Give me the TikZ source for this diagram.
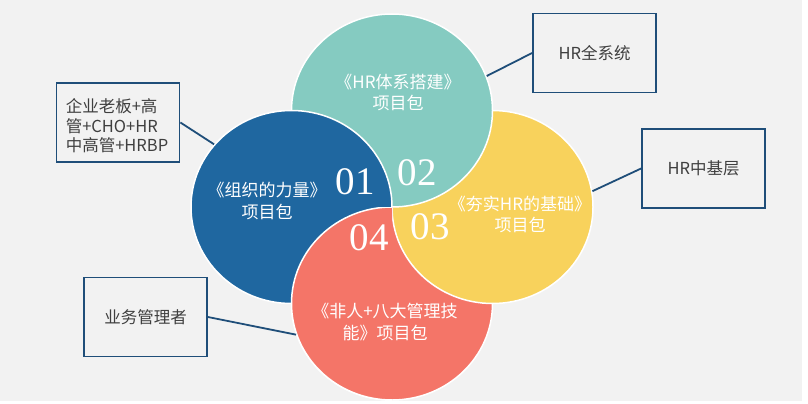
\documentclass[tikz,border=0pt]{standalone}
\usepackage{fontspec}
\newfontfamily\cjk{Noto Sans CJK SC}
\newfontfamily\numfont{Liberation Serif}
\usetikzlibrary{shapes.geometric}
\definecolor{bg}{HTML}{F2F2F2}
\definecolor{lineblue}{HTML}{1F4E79}
\definecolor{txtgray}{HTML}{3F3F3F}
\definecolor{cteal}{HTML}{85CBC1}
\definecolor{cblue}{HTML}{1F67A0}
\definecolor{cyellow}{HTML}{F8D25C}
\definecolor{cred}{HTML}{F47568}
\begin{document}
\begin{tikzpicture}[x=1pt,y=-1pt,
  petal/.style={ellipse, minimum width=201pt, minimum height=193pt, inner sep=0pt, draw=white, line width=1.5pt},
  box/.style={draw=lineblue, line width=1.8pt, fill=bg, minimum width=123pt, minimum height=79pt, inner sep=0pt, text=txtgray, font=\cjk\fontsize{16.5}{19.5}\selectfont},
  link/.style={draw=lineblue, line width=1.8pt},
  ptext/.style={text=white, font=\cjk\fontsize{17}{21.5}\selectfont, align=center, inner sep=0pt},
  num/.style={text=white, font=\numfont\fontsize{39}{39}\selectfont, inner sep=0pt}]
\useasboundingbox (0,0) rectangle (808,404);
\fill[white] (0,0) rectangle (808,404);
\fill[bg] (0,0) rectangle (802,401);

% petals (cyclic overlap)
\node[petal, fill=cred] (red) at (392,303.5) {};
\node[petal, fill=cyellow] (yellow) at (492.5,207) {};
\node[petal, fill=cteal] (teal) at (392,110.5) {};
\node[petal, fill=cblue] (blue) at (291.5,207) {};
\begin{scope}
  \clip (180,207) rectangle (392,404);
  \filldraw[fill=cred, draw=white, line width=1.5pt] (392,303.5) ellipse [x radius=100.5pt, y radius=96.5pt];
\end{scope}

% texts in petals
\node[ptext] (tteal) at (398,92.5) {《HR体系搭建》\\项目包};
\node[ptext] (tblue) at (267,201) {《组织的力量》\\项目包};
\node[ptext] (tyellow) at (520,214.5) {《夯实HR的基础》\\项目包};
\node[ptext] (tred) at (385,322) {《非人+八大管理技\\能》项目包};
\node[num] (n1) at (355,182) {01};
\node[num] (n2) at (417,173) {02};
\node[num] (n3) at (430,227) {03};
\node[num] (n4) at (369,238) {04};

% boxes
\node[box] (b1) at (118,122.5) {};
\node[text=txtgray, font=\cjk\fontsize{16.5}{19.5}\selectfont, align=left, inner sep=0pt] (b1t) at (117,126) {企业老板+高\\管+CHO+HR\\中高管+HRBP};
\node[box] (b2) at (594.5,53) {HR全系统};
\node[box] (b3) at (703.5,168.5) {HR中基层};
\node[box] (b4) at (145.5,317) {业务管理者};

% connectors
\draw[link] (b1.east) -- (blue.141);
\draw[link] (b2.west) -- (teal.20);
\draw[link] (b3.west) -- (yellow.9);
\draw[link] (b4.east) -- (red.198);
\end{tikzpicture}
\end{document}
